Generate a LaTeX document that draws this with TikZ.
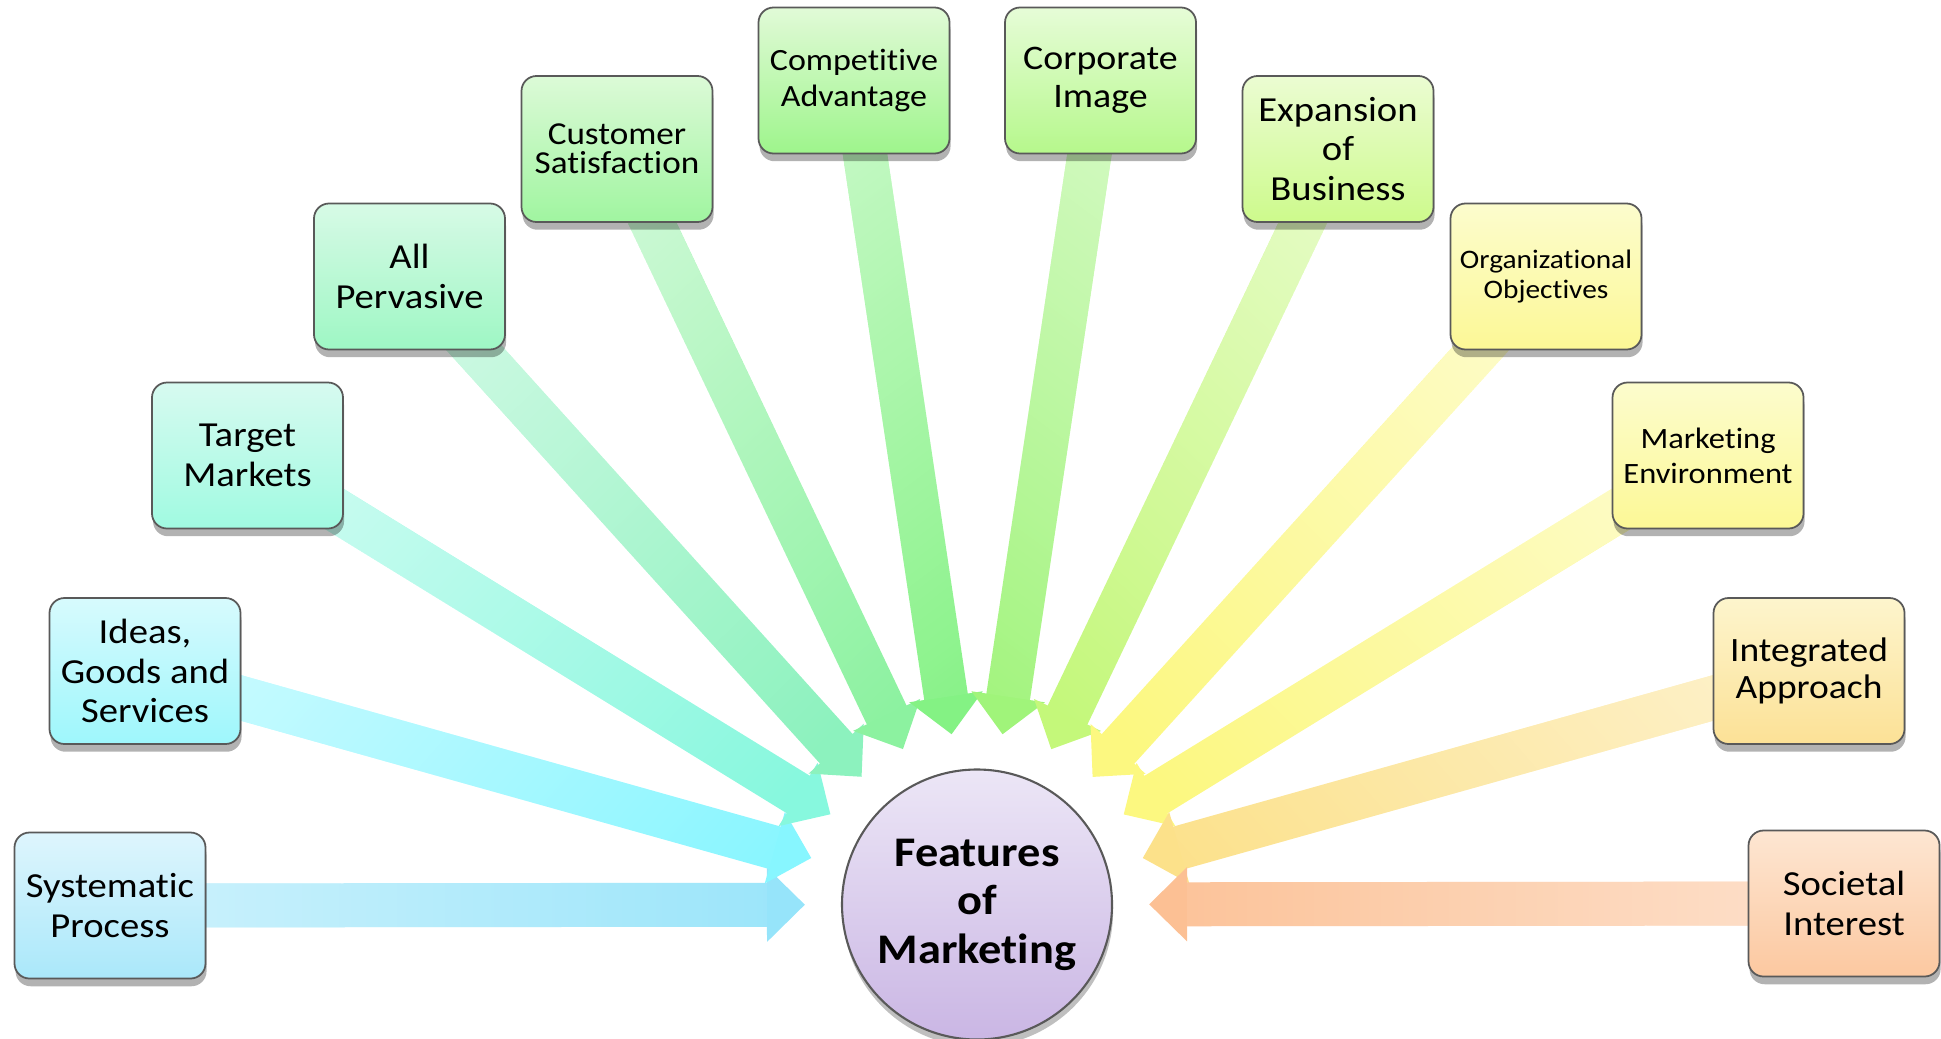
\documentclass[tikz,border=0pt]{standalone}
\usepackage{fontspec}
\setmainfont{Carlito}[FakeStretch=1.1,Ligatures={TeX,NoCommon}]
\usepackage{tikz}
\usetikzlibrary{arrows.meta,shadows,fadings}

% box fills (top / bottom) and spoke colours
\definecolor{skytop}{RGB}{222,245,253}
\definecolor{skybot}{RGB}{170,232,250}
\definecolor{skyarrow}{RGB}{150,228,250}
\definecolor{cyantop}{RGB}{215,250,253}
\definecolor{cyanbot}{RGB}{158,247,252}
\definecolor{cyanarrow}{RGB}{135,246,255}
\definecolor{aquatop}{RGB}{215,250,240}
\definecolor{aquabot}{RGB}{160,250,225}
\definecolor{aquaarrow}{RGB}{135,248,222}
\definecolor{minttop}{RGB}{215,250,230}
\definecolor{mintbot}{RGB}{158,247,196}
\definecolor{mintarrow}{RGB}{140,242,190}
\definecolor{leaftop}{RGB}{220,250,215}
\definecolor{leafbot}{RGB}{160,245,160}
\definecolor{leafarrow}{RGB}{140,242,160}
\definecolor{greentop}{RGB}{225,250,215}
\definecolor{greenbot}{RGB}{158,245,140}
\definecolor{greenarrow}{RGB}{132,242,132}
\definecolor{limetop}{RGB}{230,252,215}
\definecolor{limebot}{RGB}{182,248,140}
\definecolor{limearrow}{RGB}{160,244,122}
\definecolor{pistatop}{RGB}{235,252,210}
\definecolor{pistabot}{RGB}{205,250,140}
\definecolor{pistaarrow}{RGB}{196,248,122}
\definecolor{lemontop}{RGB}{252,252,205}
\definecolor{lemonbot}{RGB}{252,248,150}
\definecolor{lemonarrow}{RGB}{252,248,128}
\definecolor{sandtop}{RGB}{253,245,205}
\definecolor{sandbot}{RGB}{252,225,150}
\definecolor{sandarrow}{RGB}{252,225,138}
\definecolor{peachtop}{RGB}{253,230,210}
\definecolor{peachbot}{RGB}{252,200,160}
\definecolor{peacharrow}{RGB}{252,192,148}
\definecolor{lilactop}{RGB}{236,230,246}
\definecolor{lilacbot}{RGB}{202,182,228}

\pgfdeclarelayer{background}
\pgfsetlayers{background,main}

\tikzset{
  feature/.style 2 args={draw=black!65, line width=0.5pt, rounded corners=0.15cm,
    minimum width=1.91cm, minimum height=1.46cm, inner sep=1pt, align=center,
    top color=#1, bottom color=#2,
    drop shadow={shadow xshift=0.3pt, shadow yshift=-2.2pt, opacity=0.3, fill=black}},
  % #1 colour, #2 heading of the spoke (box -> hub), used to turn the pale wash
  spoke/.style 2 args={draw=#1, line width=0.44cm, shorten >=0.36cm,
    -{Triangle[width=0.72cm,length=0.38cm]},
    postaction={draw=white, opacity=0.55, -, shorten >=0.74cm,
      path fading=east, fading angle=#2}},
  bigtext/.style={font=\fontsize{10pt}{11.2pt}\selectfont},
  midtext/.style={font=\fontsize{8.8pt}{10.4pt}\selectfont},
}

\begin{document}
\begin{tikzpicture}
  \useasboundingbox (0,0) rectangle (19.41,10.38);

  % ── Hub ──
  \node[circle, minimum size=2.70cm, inner sep=0pt, draw=black!65, line width=0.6pt,
        top color=lilactop, bottom color=lilacbot, align=center,
        font=\bfseries\fontsize{12pt}{13.8pt}\selectfont,
        drop shadow={shadow xshift=0.3pt, shadow yshift=-2pt, opacity=0.25, fill=black}]
        (features) at (9.77,1.335) {Features\\of\\Marketing};

  % ── Left half ──
  \node[feature={skytop}{skybot},bigtext]   (sysproc)   at (1.10,1.325)  {Systematic\\Process};
  \node[feature={cyantop}{cyanbot},bigtext] (ideas)     at (1.45,3.67)   {Ideas,\\Goods and\\Services};
  \node[feature={aquatop}{aquabot},bigtext] (target)    at (2.475,5.825) {Target\\Markets};
  \node[feature={minttop}{mintbot},bigtext] (pervasive) at (4.095,7.615) {All\\Pervasive};
  \node[feature={leaftop}{leafbot},font=\fontsize{9.1pt}{8.2pt}\selectfont]
        (custsat) at (6.17,8.89) {Customer\\Satisfaction};
  \node[feature={greentop}{greenbot},midtext] (compadv) at (8.54,9.575) {Competitive\\Advantage};

  % ── Right half ──
  \node[feature={limetop}{limebot},font=\fontsize{9.8pt}{10.8pt}\selectfont]
        (corpimg) at (11.005,9.575) {Corporate\\Image};
  \node[feature={pistatop}{pistabot},bigtext] (expansion) at (13.38,8.89) {Expansion\\of\\Business};
  \node[feature={lemontop}{lemonbot},font=\fontsize{7.6pt}{8.6pt}\selectfont]
        (orgobj) at (15.46,7.615) {Organizational\\Objectives};
  \node[feature={lemontop}{lemonbot},font=\fontsize{8.4pt}{9.9pt}\selectfont]
        (mktenv) at (17.08,5.825) {Marketing\\Environment};
  \node[feature={sandtop}{sandbot},font=\fontsize{9.7pt}{10.4pt}\selectfont]
        (integrated) at (18.09,3.67) {Integrated\\Approach};
  \node[feature={peachtop}{peachbot},bigtext] (societal) at (18.44,1.345) {Societal\\Interest};

  % ── Spokes into the hub ──
  \begin{pgfonlayer}{background}
    \draw[spoke={skyarrow}{0}]       (sysproc.center)    -- (features);
    \draw[spoke={cyanarrow}{-15.7}]  (ideas.center)      -- (features);
    \draw[spoke={aquaarrow}{-31.6}]  (target.center)     -- (features);
    \draw[spoke={mintarrow}{-47.9}]  (pervasive.center)  -- (features);
    \draw[spoke={leafarrow}{-64.5}]  (custsat.center)    -- (features);
    \draw[spoke={greenarrow}{-81.5}] (compadv.center)    -- (features);
    \draw[spoke={limearrow}{-98.5}]  (corpimg.center)    -- (features);
    \draw[spoke={pistaarrow}{-115.5}](expansion.center)  -- (features);
    \draw[spoke={lemonarrow}{-132.1}](orgobj.center)     -- (features);
    \draw[spoke={lemonarrow}{-148.4}](mktenv.center)     -- (features);
    \draw[spoke={sandarrow}{-164.3}] (integrated.center) -- (features);
    \draw[spoke={peacharrow}{180}]   (societal.center)   -- (features);
  \end{pgfonlayer}
\end{tikzpicture}
\end{document}
